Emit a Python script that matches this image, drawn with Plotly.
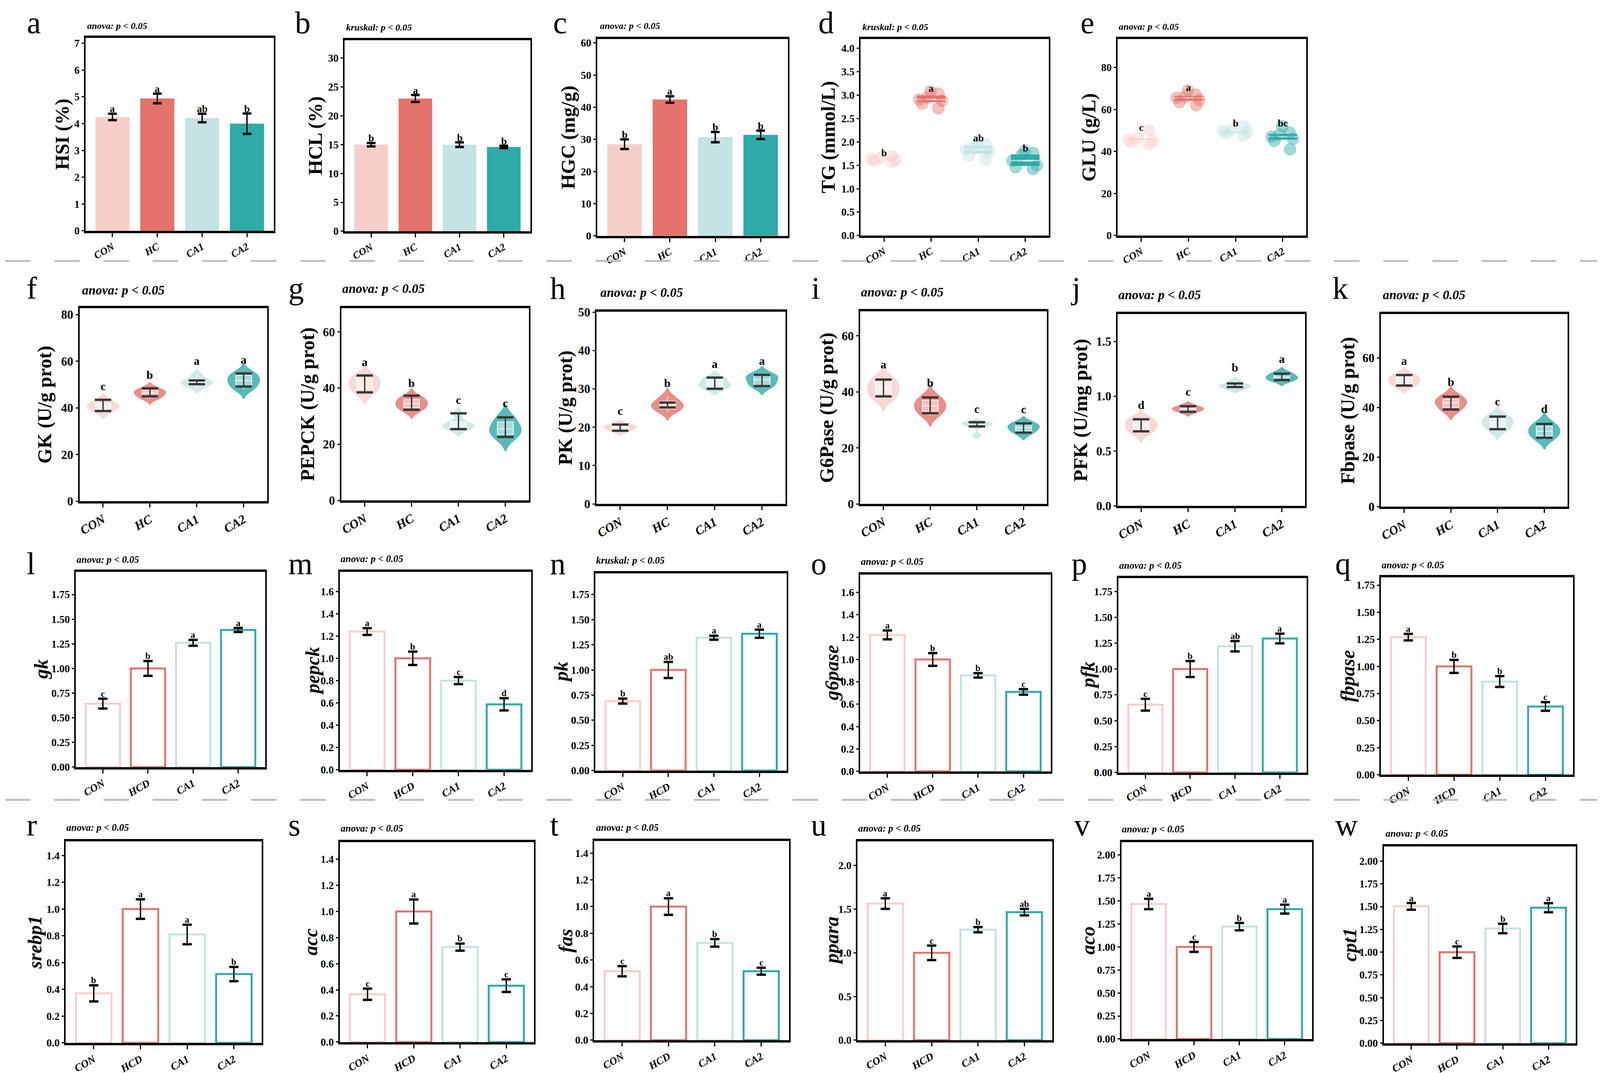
import numpy as np
import plotly.graph_objects as go

W, H = 4252, 2747
FONT = "Liberation Serif"

GROUPS_HC = ["CON", "HC", "CA1", "CA2"]
GROUPS_HCD = ["CON", "HCD", "CA1", "CA2"]
COLORS = ["#F6CFCA", "#E4736B", "#C3E3E4", "#2EAAA8"]
RGB = [(246, 207, 202), (228, 115, 107), (195, 227, 228), (46, 170, 168)]

# ---- a-c: filled bars (mean, error, letters) ----
hsi_mean = [4.25, 4.94, 4.21, 4.00]
hsi_err = [0.12, 0.18, 0.16, 0.38]
hsi_sig = ["a", "a", "ab", "b"]
hcl_mean = [15.0, 23.0, 15.0, 14.6]
hcl_err = [0.3, 0.6, 0.4, 0.2]
hcl_sig = ["b", "a", "b", "b"]
hgc_mean = [28.5, 42.4, 30.7, 31.4]
hgc_err = [1.5, 1.0, 1.6, 1.3]
hgc_sig = ["b", "a", "b", "b"]

# ---- d-e: box + points ----
tg_vals = [[1.57, 1.60, 1.62, 1.64, 1.66, 1.70],
           [2.72, 2.82, 2.88, 2.91, 2.95, 3.03, 3.08],
           [1.62, 1.71, 1.80, 1.84, 1.88, 1.95, 2.02],
           [1.42, 1.46, 1.50, 1.60, 1.72, 1.76, 1.80]]
tg_sig = ["b", "a", "ab", "b"]
glu_vals = [[43.5, 44.5, 45.0, 45.5, 46.5, 50.0],
            [62.0, 63.5, 64.5, 65.5, 66.0, 67.0, 69.0],
            [47.5, 48.5, 49.5, 50.0, 50.5, 52.0],
            [41.0, 45.0, 46.0, 47.0, 48.0, 49.0, 52.0]]
glu_sig = ["c", "a", "b", "bc"]

# ---- f-k: violins (raw values, mean, error, letters) ----
gk_vals = [[38.0, 39.5, 40.5, 41.0, 42.0, 43.5],
           [44.0, 45.0, 46.0, 46.8, 47.5, 48.5],
           [48.5, 50.0, 50.5, 51.0, 51.5, 52.5, 54.5],
           [48.0, 49.5, 51.0, 52.5, 54.0, 55.0]]
gk_mean = [41.1, 46.7, 51.0, 52.0]
gk_err = [2.4, 1.7, 0.8, 2.8]
gk_sig = ["c", "b", "a", "a"]

pepck_vals = [[38.0, 39.5, 41.0, 42.0, 43.5, 44.5],
              [32.0, 33.0, 34.0, 35.0, 36.0, 37.0],
              [25.0, 26.0, 26.5, 27.0, 28.0, 31.0],
              [22.0, 23.5, 25.0, 26.0, 28.0, 30.0]]
pepck_mean = [41.5, 34.8, 28.2, 26.1]
pepck_err = [3.0, 2.5, 2.8, 3.5]
pepck_sig = ["a", "b", "c", "c"]

pk_vals = [[19.0, 19.5, 20.0, 20.3, 20.8],
           [24.0, 24.8, 25.5, 26.0, 26.8, 28.0],
           [30.0, 30.5, 31.0, 31.5, 32.5, 33.0],
           [30.5, 31.0, 32.0, 32.8, 33.5, 33.8]]
pk_mean = [19.9, 25.8, 31.5, 32.2]
pk_err = [0.8, 0.65, 1.45, 1.45]
pk_sig = ["c", "b", "a", "a"]

g6p_vals = [[37.5, 38.5, 40.5, 42.0, 43.5, 45.0],
            [31.5, 33.0, 34.5, 35.5, 37.0, 38.5],
            [24.5, 27.8, 28.2, 28.6, 29.0, 29.2],
            [25.0, 26.0, 27.0, 27.5, 28.5, 29.0]]
g6p_mean = [41.4, 35.2, 28.4, 27.1]
g6p_err = [3.0, 2.8, 0.75, 1.65]
g6p_sig = ["a", "b", "c", "c"]

pfk_vals = [[0.66, 0.69, 0.72, 0.75, 0.78, 0.80],
            [0.85, 0.87, 0.88, 0.89, 0.90, 0.92],
            [1.06, 1.08, 1.09, 1.10, 1.11, 1.14],
            [1.14, 1.15, 1.17, 1.18, 1.20, 1.22]]
pfk_mean = [0.735, 0.884, 1.101, 1.177]
pfk_err = [0.055, 0.025, 0.016, 0.029]
pfk_sig = ["d", "c", "b", "a"]

fbp_vals = [[48.5, 49.5, 50.5, 51.5, 52.5, 53.5],
            [38.5, 40.0, 41.5, 42.5, 43.5, 45.0],
            [30.5, 32.0, 33.5, 34.5, 35.5, 37.0],
            [27.0, 28.5, 30.0, 31.0, 32.5, 34.0]]
fbp_mean = [51.0, 41.8, 33.8, 30.6]
fbp_err = [2.1, 2.6, 2.55, 2.8]
fbp_sig = ["a", "b", "c", "d"]

# ---- l-w: open bars (relative expression) ----
gk_rel = [0.643, 1.0, 1.26, 1.39]
gk_rel_err = [0.05, 0.075, 0.03, 0.02]
gk_rel_sig = ["c", "b", "a", "a"]
pepck_rel = [1.24, 1.0, 0.80, 0.587]
pepck_rel_err = [0.03, 0.06, 0.032, 0.055]
pepck_rel_sig = ["a", "b", "c", "d"]
pk_rel = [0.69, 1.0, 1.32, 1.36]
pk_rel_err = [0.025, 0.08, 0.02, 0.04]
pk_rel_sig = ["b", "ab", "a", "a"]
g6p_rel = [1.22, 1.0, 0.858, 0.71]
g6p_rel_err = [0.04, 0.057, 0.02, 0.025]
g6p_rel_sig = ["a", "b", "b", "c"]
pfk_rel = [0.655, 1.0, 1.22, 1.295]
pfk_rel_err = [0.057, 0.077, 0.05, 0.047]
pfk_rel_sig = ["c", "b", "ab", "a"]
fbp_rel = [1.27, 1.0, 0.86, 0.63]
fbp_rel_err = [0.03, 0.06, 0.05, 0.04]
fbp_rel_sig = ["a", "b", "b", "c"]

srebp1_rel = [0.37, 1.0, 0.81, 0.514]
srebp1_err = [0.06, 0.073, 0.073, 0.053]
srebp1_sig = ["b", "a", "a", "b"]
acc_rel = [0.366, 1.0, 0.727, 0.432]
acc_err = [0.043, 0.092, 0.027, 0.048]
acc_sig = ["c", "a", "b", "c"]
fas_rel = [0.516, 1.0, 0.728, 0.516]
fas_err = [0.038, 0.062, 0.028, 0.026]
fas_sig = ["c", "a", "b", "c"]
ppara_rel = [1.564, 1.0, 1.265, 1.466]
ppara_err = [0.06, 0.083, 0.03, 0.037]
ppara_sig = ["a", "c", "b", "ab"]
aco_rel = [1.466, 1.0, 1.22, 1.41]
aco_err = [0.056, 0.054, 0.04, 0.048]
aco_sig = ["a", "c", "b", "a"]
cpt1_rel = [1.503, 1.0, 1.26, 1.488]
cpt1_err = [0.037, 0.063, 0.052, 0.05]
cpt1_sig = ["a", "c", "b", "a"]

# panel definitions: kind, y title, test, y max, dtick, tick format, data
PANELS = [
    ("a", "bar", "HSI (%)", "anova", 7.2, 1, "d", GROUPS_HC, (hsi_mean, hsi_err, hsi_sig)),
    ("b", "bar", "HCL (%)", "kruskal", 33.1, 5, "d", GROUPS_HC, (hcl_mean, hcl_err, hcl_sig)),
    ("c", "bar", "HGC (mg/g)", "anova", 61.2, 10, "d", GROUPS_HC, (hgc_mean, hgc_err, hgc_sig)),
    ("d", "box", "TG (mmol/L)", "kruskal", 4.2, 0.5, ".1f", GROUPS_HC, (tg_vals, tg_sig)),
    ("e", "box", "GLU (g/L)", "anova", 93.5, 20, "d", GROUPS_HC, (glu_vals, glu_sig)),
    ("f", "violin", "GK (U/g prot)", "anova", 82.7, 20, "d", GROUPS_HC, (gk_vals, gk_mean, gk_err, gk_sig)),
    ("g", "violin", "PEPCK (U/g prot)", "anova", 68.4, 20, "d", GROUPS_HC, (pepck_vals, pepck_mean, pepck_err, pepck_sig)),
    ("h", "violin", "PK (U/g prot)", "anova", 50.1, 10, "d", GROUPS_HC, (pk_vals, pk_mean, pk_err, pk_sig)),
    ("i", "violin", "G6Pase (U/g prot)", "anova", 68.7, 20, "d", GROUPS_HC, (g6p_vals, g6p_mean, g6p_err, g6p_sig)),
    ("j", "violin", "PFK (U/mg prot)", "anova", 1.75, 0.5, ".1f", GROUPS_HC, (pfk_vals, pfk_mean, pfk_err, pfk_sig)),
    ("k", "violin", "Fbpase (U/g prot)", "anova", 77.7, 20, "d", GROUPS_HC, (fbp_vals, fbp_mean, fbp_err, fbp_sig)),
    ("l", "open", "gk", "anova", 1.98, 0.25, ".2f", GROUPS_HCD, (gk_rel, gk_rel_err, gk_rel_sig)),
    ("m", "open", "pepck", "anova", 1.776, 0.2, ".1f", GROUPS_HCD, (pepck_rel, pepck_rel_err, pepck_rel_sig)),
    ("n", "open", "pk", "kruskal", 1.96, 0.25, ".2f", GROUPS_HCD, (pk_rel, pk_rel_err, pk_rel_sig)),
    ("o", "open", "g6pase", "anova", 1.76, 0.2, ".1f", GROUPS_HCD, (g6p_rel, g6p_rel_err, g6p_rel_sig)),
    ("p", "open", "pfk", "anova", 1.88, 0.25, ".2f", GROUPS_HCD, (pfk_rel, pfk_rel_err, pfk_rel_sig)),
    ("q", "open", "fbpase", "anova", 1.823, 0.25, ".2f", GROUPS_HCD, (fbp_rel, fbp_rel_err, fbp_rel_sig)),
    ("r", "open", "srebp1", "anova", 1.505, 0.2, ".1f", GROUPS_HCD, (srebp1_rel, srebp1_err, srebp1_sig)),
    ("s", "open", "acc", "anova", 1.53, 0.2, ".1f", GROUPS_HCD, (acc_rel, acc_err, acc_sig)),
    ("t", "open", "fas", "anova", 1.49, 0.2, ".1f", GROUPS_HCD, (fas_rel, fas_err, fas_sig)),
    ("u", "open", "ppara", "anova", 2.275, 0.5, ".1f", GROUPS_HCD, (ppara_rel, ppara_err, ppara_sig)),
    ("v", "open", "aco", "anova", 2.136, 0.25, ".2f", GROUPS_HCD, (aco_rel, aco_err, aco_sig)),
    ("w", "open", "cpt1", "anova", 2.16, 0.25, ".2f", GROUPS_HCD, (cpt1_rel, cpt1_err, cpt1_sig)),
]

# layout (pixel positions in the 4252x2747 reference, used as paper fractions)
BOXES = {
    "a": (215, 718, 74, 574), "b": (907, 1403, 80, 575), "c": (1582, 2091, 77, 587),
    "d": (2285, 2788, 77, 586), "e": (2972, 3476, 77, 586),
    "f": (199, 700, 775, 1275), "g": (898, 1399, 775, 1273), "h": (1580, 2085, 784, 1282),
    "i": (2284, 2783, 783, 1282), "j": (2972, 3473, 790, 1287), "k": (3675, 4174, 790, 1289),
    "l": (189, 695, 1458, 1964), "m": (894, 1406, 1458, 1971), "n": (1577, 2088, 1462, 1973),
    "o": (2284, 2793, 1465, 1975), "p": (2974, 3477, 1474, 1978), "q": (3675, 4188, 1472, 1984),
    "r": (162, 686, 2157, 2679), "s": (894, 1413, 2159, 2677), "t": (1574, 2094, 2156, 2672),
    "u": (2277, 2797, 2157, 2672), "v": (2982, 3491, 2159, 2669), "w": (3683, 4196, 2170, 2680),
}
TITLE_X = {"a": 152, "b": 829, "c": 1503, "d": 2199, "e": 2895,
           "f": 106, "g": 808, "h": 1497, "i": 2194, "j": 2872, "k": 3586,
           "l": 96, "m": 821, "n": 1485, "o": 2208, "p": 2892, "q": 3586,
           "r": 79, "s": 816, "t": 1497, "u": 2207, "v": 2893, "w": 3591}
LETTER_X = {"a": 56, "b": 772, "c": 1462, "d": 2170, "e": 2870,
            "f": 55, "g": 754, "h": 1454, "i": 2152, "j": 2844, "k": 3544,
            "l": 55, "m": 754, "n": 1454, "o": 2150, "p": 2847, "q": 3551,
            "r": 55, "s": 754, "t": 1454, "u": 2150, "v": 2854, "w": 3551}
STAT_POS = {"a": (217, 43), "b": (909, 47), "c": (1587, 43), "d": (2288, 46), "e": (2973, 45),
            "f": (203, 728), "g": (898, 724), "h": (1588, 734), "i": (2284, 733),
            "j": (2972, 740), "k": (3678, 740),
            "l": (189, 1426), "m": (894, 1424), "n": (1577, 1428), "o": (2284, 1431),
            "p": (2974, 1441), "q": (3675, 1440),
            "r": (162, 2121), "s": (894, 2123), "t": (1577, 2121), "u": (2277, 2123),
            "v": (2981, 2125), "w": (3685, 2136)}
ROW_OF = {k: r for r, keys in enumerate(["abcde", "fghijk", "lmnopq", "rstuvw"]) for k in keys}
ROW_BASE = [61, 750, 1464, 2141]
ROW_STYLE = [
    dict(tick=27, xtick=26, stat=24, sig=26, capw=16),
    dict(tick=31, xtick=32, stat=33, sig=30, capw=30),
    dict(tick=27, xtick=27, stat=25, sig=23, capw=17),
    dict(tick=27, xtick=27, stat=25, sig=23, capw=17),
]

fig = go.Figure()
annotations = []
axes = {}


def px_x(x):
    return x / W


def px_y(y):
    return 1 - y / H


def add_errorbars(xid, yid, cats, mean, err, color, capw):
    mean = np.asarray(mean, dtype=float)
    err = np.asarray(err, dtype=float)
    fig.add_trace(go.Scatter(
        x=cats, y=mean, mode="markers", marker=dict(size=1, color="rgba(0,0,0,0)"),
        error_y=dict(type="data", array=err, color=color, thickness=3.5, width=0),
        xaxis=xid, yaxis=yid, showlegend=False, hoverinfo="skip"))
    # thick caps at both ends
    fig.add_trace(go.Scatter(
        x=list(cats) * 2, y=np.r_[mean + err, mean - err], mode="markers",
        marker=dict(symbol="line-ew", size=capw, line=dict(width=6, color=color)),
        xaxis=xid, yaxis=yid, showlegend=False, hoverinfo="skip"))


def add_sig(xid, yid, cats, ys, sig, size):
    for c, y, s in zip(cats, ys, sig):
        annotations.append(dict(
            x=c, y=y, xref=xid, yref=yid, text=s, showarrow=False, yanchor="middle",
            font=dict(family=FONT, size=size, color="black", weight="bold")))


for n, (key, kind, ytitle, test, ymax, dtick, fmt, cats, data) in enumerate(PANELS, start=1):
    sfx = "" if n == 1 else str(n)
    xid, yid = "x" + sfx, "y" + sfx
    row = ROW_OF[key]
    st = ROW_STYLE[row]
    x0, x1, y0, y1 = BOXES[key]

    if kind in ("bar", "open"):
        mean, err, sig = data
        solid = kind == "bar"
        fig.add_trace(go.Bar(
            x=cats, y=mean, width=0.76,
            marker=dict(color=COLORS if solid else "rgba(255,255,255,0)",
                        line=dict(color=COLORS, width=0 if solid else 5)),
            xaxis=xid, yaxis=yid, showlegend=False, hoverinfo="skip"))
        add_errorbars(xid, yid, cats, mean, err, "black", st["capw"])
        tops = np.asarray(mean) + np.asarray(err) + 0.025 * ymax
        add_sig(xid, yid, cats, tops, sig, st["sig"])
        xpad = 0.6
    elif kind == "box":
        vals, sig = data
        for i, c in enumerate(cats):
            r, g, b = RGB[i]
            fig.add_trace(go.Box(
                x=[c] * len(vals[i]), y=vals[i], width=0.64,
                fillcolor=COLORS[i], line=dict(color="white", width=4),
                boxpoints="all", jitter=1.0, pointpos=0, whiskerwidth=0,
                marker=dict(color=f"rgba({r},{g},{b},0.45)", size=32, line=dict(width=0)),
                xaxis=xid, yaxis=yid, showlegend=False, hoverinfo="skip"))
        tops = [max(v) + 0.015 * ymax for v in vals]
        add_sig(xid, yid, cats, tops, sig, st["sig"])
        xpad = 0.5
    else:
        vals, mean, err, sig = data
        for i, c in enumerate(cats):
            r, g, b = RGB[i]
            fig.add_trace(go.Violin(
                x=[c] * len(vals[i]), y=vals[i], width=0.68, points=False,
                fillcolor=f"rgba({r},{g},{b},0.8)",
                line=dict(color=f"rgba({r},{g},{b},0.9)", width=1),
                box=dict(visible=True, width=0.5, fillcolor="rgba(255,255,255,0.45)",
                         line=dict(color="rgba(255,255,255,0.9)", width=2)),
                xaxis=xid, yaxis=yid, showlegend=False, hoverinfo="skip"))
        add_errorbars(xid, yid, cats, mean, err, "#383838", st["capw"])
        tops = [max(v) + 0.07 * ymax for v in vals]
        add_sig(xid, yid, cats, tops, sig, st["sig"])
        xpad = 0.5

    axes["xaxis" + sfx] = dict(
        domain=[px_x(x0), px_x(x1)], anchor=yid, type="category",
        categoryorder="array", categoryarray=cats, range=[-xpad, 3 + xpad],
        showline=True, mirror=True, linecolor="black", linewidth=6,
        ticks="outside", ticklen=10, tickwidth=3, tickcolor="black", tickangle=-30,
        tickfont=dict(family=FONT, size=st["xtick"], color="black", weight="bold", style="italic"),
        showgrid=False, zeroline=False)
    axes["yaxis" + sfx] = dict(
        domain=[px_y(y1), px_y(y0)], anchor=xid, range=[0, ymax], tick0=0, dtick=dtick,
        tickformat=fmt, showline=True, mirror=True, linecolor="black", linewidth=4,
        ticks="outside", ticklen=6, tickwidth=3, tickcolor="black",
        tickfont=dict(family=FONT, size=st["tick"], color="black", weight="bold"),
        showgrid=False, zeroline=False)

    # y title
    annotations.append(dict(
        x=px_x(TITLE_X[key]), y=px_y((y0 + y1) / 2), xref="paper", yref="paper",
        text=ytitle, textangle=-90, showarrow=False, xanchor="center", yanchor="middle",
        font=dict(family=FONT, size=50, color="black", weight="bold",
                  style="italic" if row >= 2 else "normal")))
    # panel letter
    annotations.append(dict(
        x=px_x(LETTER_X[key]), y=px_y(ROW_BASE[row] - 27), xref="paper", yref="paper",
        text=key, showarrow=False, xanchor="left", yanchor="middle",
        font=dict(family=FONT, size=80, color="black")))
    # test label
    sx, sy = STAT_POS[key]
    annotations.append(dict(
        x=px_x(sx), y=px_y(sy), xref="paper", yref="paper",
        text=f"{test}: p &lt; 0.05", showarrow=False, xanchor="left", yanchor="middle",
        font=dict(family=FONT, size=st["stat"], color="black", weight="bold", style="italic")))

shapes = [dict(type="line", xref="paper", yref="paper", x0=0, x1=1,
               y0=px_y(yy), y1=px_y(yy),
               line=dict(color="#BDBDBD", width=5, dash="65px,61px"))
          for yy in (652, 2049)]

# width is left to autosize so the figure fills the visible page width
fig.update_layout(
    height=H, autosize=True, margin=dict(l=0, r=0, t=0, b=0),
    paper_bgcolor="white", plot_bgcolor="white", showlegend=False,
    font=dict(family=FONT, color="black"),
    annotations=annotations, shapes=shapes, **axes)

fig.write_html("out.html")
